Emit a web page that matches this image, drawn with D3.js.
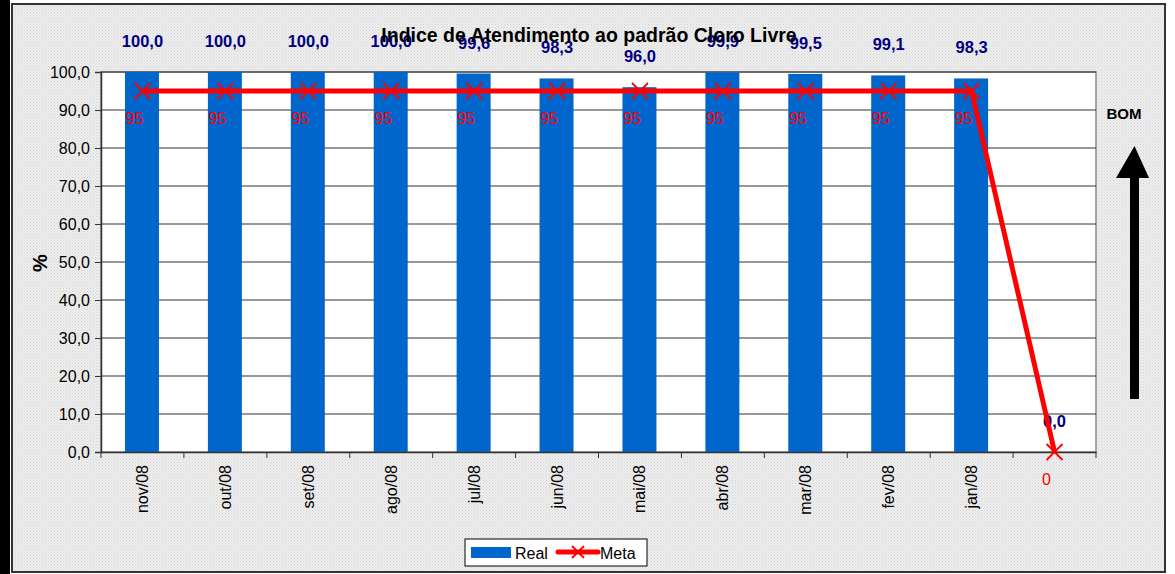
<!DOCTYPE html>
<html><head><meta charset="utf-8">
<script src="https://cdn.jsdelivr.net/npm/d3@7"></script>
<style>body{margin:0;background:#fff}svg{display:block;font-family:"Liberation Sans",Arial,sans-serif}</style>
</head><body><svg id="c" width="1175" height="574"></svg>
<script>
const categories = ["nov/08","out/08","set/08","ago/08","jul/08","jun/08","mai/08","abr/08","mar/08","fev/08","jan/08",""];
const realValues = [100.0,100.0,100.0,100.0,99.6,98.3,96.0,99.9,99.5,99.1,98.3,0.0];
const metaValues = [95,95,95,95,95,95,95,95,95,95,95,0];
const yTicks = [0,10,20,30,40,50,60,70,80,90,100];
const title = "Indice de Atendimento ao padrão Cloro Livre";

const svg = d3.select("#c");
const defs = svg.append("defs");
const pat = defs.append("pattern").attr("id","dots").attr("width",3).attr("height",3).attr("patternUnits","userSpaceOnUse");
pat.append("rect").attr("width",3).attr("height",3).attr("fill","#eeeeee");
pat.append("rect").attr("width",1).attr("height",1).attr("fill","#d2d2d2");
pat.append("rect").attr("x",1.5).attr("y",1.5).attr("width",1).attr("height",1).attr("fill","#d8d8d8");

// left black strip
svg.append("rect").attr("x",0).attr("y",0).attr("width",10).attr("height",574).attr("fill","#000");
// chart area
svg.append("rect").attr("x",12).attr("y",4).attr("width",1153).attr("height",568)
  .attr("fill","url(#dots)").attr("stroke","#333").attr("stroke-width",2);

const m = {l:101, r:1096, t:72, b:452};
const x = d3.scaleBand().domain(d3.range(categories.length)).range([m.l,m.r]).paddingInner(0).paddingOuter(0);
const y = d3.scaleLinear().domain([0,100]).range([m.b,m.t]);

svg.append("rect").attr("x",m.l).attr("y",m.t).attr("width",m.r-m.l).attr("height",m.b-m.t)
  .attr("fill","#fff").attr("stroke","#888").attr("stroke-width",1.5);

// gridlines
svg.append("g").selectAll("line").data(yTicks.filter(d=>d>0)).join("line")
  .attr("x1",m.l).attr("x2",m.r).attr("y1",d=>y(d)).attr("y2",d=>y(d))
  .attr("stroke","#333").attr("stroke-width",1);

// y axis
const fmt = d => d3.format(".1f")(d).replace(".",",");
const ya = svg.append("g").attr("transform",`translate(${m.l},0)`)
  .call(d3.axisLeft(y).tickValues(yTicks).tickFormat(fmt).tickSize(6).tickPadding(5));
ya.select(".domain").attr("stroke","#333").attr("stroke-width",1.5);
ya.selectAll(".tick line").attr("stroke","#333");
ya.selectAll("text").attr("font-size",16).attr("fill","#000").attr("font-family","Liberation Sans, Arial, sans-serif");

// bars
const bw = x.bandwidth()*0.41;
svg.append("g").selectAll("rect").data(realValues).join("rect")
  .attr("x",(d,i)=>x(i)+x.bandwidth()/2-bw/2-0.5).attr("width",bw)
  .attr("y",d=>y(d)).attr("height",d=>y(0)-y(d)).attr("fill","#0066cc");

// x axis
const xa = svg.append("g").attr("transform",`translate(0,${m.b})`)
  .call(d3.axisBottom(x).tickFormat(i=>categories[i]).tickSize(0).tickPadding(0));
xa.select(".domain").attr("stroke","#333").attr("stroke-width",1.5);
xa.selectAll(".tick text").attr("font-size",16).attr("fill","#000")
  .attr("font-family","Liberation Sans, Arial, sans-serif")
  .attr("text-anchor","end").attr("dominant-baseline","central")
  .attr("transform","translate(0,13) rotate(-90)").attr("dy",null).attr("y",0).attr("x",0);
// tick marks between categories
svg.append("g").selectAll("line").data(d3.range(categories.length+1)).join("line")
  .attr("x1",i=>m.l+i*x.step()).attr("x2",i=>m.l+i*x.step())
  .attr("y1",m.b).attr("y2",m.b+6).attr("stroke","#333").attr("stroke-width",1);

// bar labels
svg.append("g").selectAll("text").data(realValues).join("text")
  .attr("x",(d,i)=>x(i)+x.bandwidth()/2).attr("y",d=>y(d)-31)
  .attr("text-anchor","middle").attr("dominant-baseline","central")
  .attr("font-size",16.5).attr("font-weight","bold").attr("fill","#000080").text(fmt);

// title
svg.append("text").attr("x",589).attr("y",35).attr("text-anchor","middle").attr("dominant-baseline","central")
  .attr("font-size",19.5).attr("font-weight","bold").attr("fill","#000").text(title);

// meta line
const line = d3.line().x((d,i)=>x(i)+x.bandwidth()/2).y(d=>y(d));
svg.append("path").datum(metaValues).attr("d",line).attr("fill","none")
  .attr("stroke","#ff0000").attr("stroke-width",5).attr("stroke-linejoin","round");
const mk = svg.append("g").selectAll("g").data(metaValues).join("g")
  .attr("transform",(d,i)=>`translate(${x(i)+x.bandwidth()/2},${y(d)})`);
mk.append("path").attr("d","M-8,-8L8,8M-8,8L8,-8").attr("stroke","#ff0000").attr("stroke-width",1.8);
svg.append("g").selectAll("text").data(metaValues).join("text")
  .attr("x",(d,i)=>x(i)+x.bandwidth()/2-8).attr("y",d=>y(d)+27)
  .attr("text-anchor","middle").attr("dominant-baseline","central")
  .attr("font-size",16).attr("fill","#ff0000").text(d=>d);

// y label
svg.append("text").attr("transform","translate(40,263) rotate(-90)").attr("text-anchor","middle")
  .attr("dominant-baseline","central").attr("font-size",20).attr("font-weight","bold").text("%");

// BOM arrow
svg.append("text").attr("x",1124).attr("y",113).attr("text-anchor","middle").attr("dominant-baseline","central")
  .attr("font-size",15).attr("font-weight","bold").text("BOM");
svg.append("rect").attr("x",1130).attr("y",175).attr("width",9).attr("height",224).attr("fill","#000");
svg.append("path").attr("d","M1134.5,146L1149,178L1116,178Z").attr("fill","#000");

// legend
const lg = svg.append("g");
lg.append("rect").attr("x",465).attr("y",539).attr("width",182).attr("height",27).attr("fill","#fff").attr("stroke","#000").attr("stroke-width",1);
lg.append("rect").attr("x",471).attr("y",547).attr("width",40).attr("height",11).attr("fill","#0066cc");
lg.append("text").attr("x",515).attr("y",553).attr("dominant-baseline","central").attr("font-size",16).text("Real");
lg.append("line").attr("x1",558).attr("x2",598).attr("y1",552).attr("y2",552).attr("stroke","#ff0000").attr("stroke-width",5).attr("stroke-linecap","round");
lg.append("path").attr("d","M572,546L584,558M572,558L584,546").attr("stroke","#ff0000").attr("stroke-width",1.8);
lg.append("text").attr("x",600).attr("y",553).attr("dominant-baseline","central").attr("font-size",16).text("Meta");
</script></body></html>
